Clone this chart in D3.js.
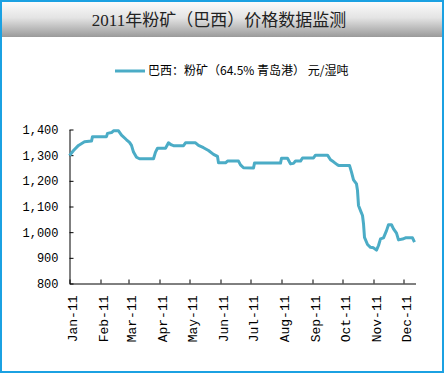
<!DOCTYPE html>
<html>
<head>
<meta charset="utf-8">
<script src="https://cdn.jsdelivr.net/npm/d3@7"></script>
<style>
  body { margin: 0; background: #fff; }
  svg { display: block; }
</style>
</head>
<body>
<svg width="444" height="374"></svg>
<script>
// chart values
const title = "2011年粉矿（巴西）价格数据监测";
const seriesName = "巴西：粉矿（64.5% 青岛港） 元/湿吨";
const dates = [
    "2011-01-01", "2011-01-05", "2011-01-10", "2011-01-16", "2011-01-23", "2011-01-24",
    "2011-02-07", "2011-02-08", "2011-02-12", "2011-02-14", "2011-02-19", "2011-02-22",
    "2011-02-27", "2011-03-02", "2011-03-04", "2011-03-06", "2011-03-09", "2011-03-12",
    "2011-03-26", "2011-03-28", "2011-03-30", "2011-04-07", "2011-04-10", "2011-04-13",
    "2011-04-15", "2011-04-25", "2011-04-27", "2011-05-07", "2011-05-10", "2011-05-15",
    "2011-05-20", "2011-05-25", "2011-05-29", "2011-05-30", "2011-06-06", "2011-06-08",
    "2011-06-19", "2011-06-21", "2011-06-24", "2011-07-04", "2011-07-05", "2011-07-31",
    "2011-08-01", "2011-08-07", "2011-08-10", "2011-08-13", "2011-08-15", "2011-08-20",
    "2011-08-22", "2011-09-02", "2011-09-04", "2011-09-16", "2011-09-19", "2011-09-22",
    "2011-09-26", "2011-09-27", "2011-10-08", "2011-10-10", "2011-10-12", "2011-10-15",
    "2011-10-16", "2011-10-17", "2011-10-19", "2011-10-21", "2011-10-22", "2011-10-23",
    "2011-10-26", "2011-10-29", "2011-11-01", "2011-11-04", "2011-11-06", "2011-11-08",
    "2011-11-11", "2011-11-14", "2011-11-16", "2011-11-19", "2011-11-21", "2011-11-24",
    "2011-11-26", "2011-11-30", "2011-12-03", "2011-12-10", "2011-12-12"
];
const prices = [
    1298, 1318, 1338, 1352, 1355, 1372,
    1372, 1385, 1388, 1395, 1395, 1378,
    1360, 1350, 1338, 1312, 1292, 1286,
    1286, 1312, 1327, 1327, 1348, 1340,
    1337, 1337, 1348, 1348, 1338, 1329,
    1318, 1303, 1295, 1270, 1270, 1277,
    1277, 1262, 1251, 1250, 1269, 1269,
    1288, 1288, 1266, 1268, 1277, 1277,
    1289, 1289, 1300, 1300, 1282, 1274,
    1262, 1260, 1260, 1234, 1204, 1188,
    1162, 1104, 1084, 1065, 1033, 980,
    952, 941, 939, 930, 948, 974,
    978, 1006, 1029, 1029, 1013, 996,
    970, 973, 978, 978, 961
];
const yTicks = [800, 900, 1000, 1100, 1200, 1300, 1400];

const lineColor = "#4bacc6";
const parse = d3.timeParse("%Y-%m-%d");
const data = dates.map((d, i) => ({ date: parse(d), value: prices[i] }));

const svg = d3.select("svg");

// frame + title band
const defs = svg.append("defs");
const grad = defs.append("linearGradient")
    .attr("id", "band").attr("x1", 0).attr("y1", 0).attr("x2", 0).attr("y2", 1);
grad.append("stop").attr("offset", "0%").attr("stop-color", "#fbfbfb");
grad.append("stop").attr("offset", "45%").attr("stop-color", "#e4e4e4");
grad.append("stop").attr("offset", "100%").attr("stop-color", "#9a9a9a");

svg.append("rect")
    .attr("x", 2).attr("y", 2).attr("width", 440).attr("height", 35)
    .attr("fill", "url(#band)");

svg.append("rect")
    .attr("x", 1).attr("y", 1).attr("width", 442).attr("height", 371)
    .attr("fill", "none")
    .attr("stroke", "#1ba1e2")
    .attr("stroke-width", 2);

svg.append("text")
    .attr("x", 219).attr("y", 26)
    .attr("text-anchor", "middle")
    .style("font-family", "'Liberation Serif', 'Noto Sans CJK SC', serif")
    .style("font-size", "17px")
    .attr("fill", "#222")
    .text(title);

// legend
svg.append("line")
    .attr("x1", 115).attr("x2", 145).attr("y1", 71).attr("y2", 71)
    .attr("stroke", lineColor).attr("stroke-width", 3);
svg.append("text")
    .attr("x", 148).attr("y", 75)
    .style("font-family", "'Noto Sans CJK SC', sans-serif")
    .style("font-size", "12px")
    .attr("fill", "#000")
    .text(seriesName);

// scales
const x = d3.scaleTime()
    .domain([parse("2011-01-01"), parse("2011-12-13")])
    .range([69.5, 415.5]);
const y = d3.scaleLinear()
    .domain([800, 1400])
    .range([283.5, 129.5]);

const yAxis = svg.append("g")
    .attr("transform", "translate(69.5,0)")
    .call(d3.axisLeft(y)
        .tickValues(yTicks)
        .tickFormat(d3.format(","))
        .tickSizeInner(-4)
        .tickSizeOuter(0)
        .tickPadding(11));
yAxis.selectAll("text")
    .style("font-family", "'Liberation Mono', monospace")
    .style("font-size", "12px")
    .attr("fill", "#000");

const xAxis = svg.append("g")
    .attr("transform", "translate(0,283.5)")
    .call(d3.axisBottom(x)
        .tickValues(d3.timeMonths(parse("2011-01-01"), parse("2011-12-13")))
        .tickFormat(d3.timeFormat("%b-%y"))
        .tickSizeInner(-4)
        .tickSizeOuter(0));
xAxis.selectAll("text")
    .attr("transform", "rotate(-90)")
    .attr("text-anchor", "end")
    .attr("x", -12)
    .attr("y", 2)
    .attr("dy", "0.35em")
    .style("font-family", "'Liberation Mono', monospace")
    .style("font-size", "13px")
    .attr("fill", "#000");

svg.selectAll(".domain, .tick line").attr("stroke", "#000");

// series line
svg.append("path")
    .datum(data)
    .attr("fill", "none")
    .attr("stroke", lineColor)
    .attr("stroke-width", 3)
    .attr("stroke-linejoin", "round")
    .attr("d", d3.line()
        .x(d => x(d.date))
        .y(d => y(d.value)));
</script>
</body>
</html>
